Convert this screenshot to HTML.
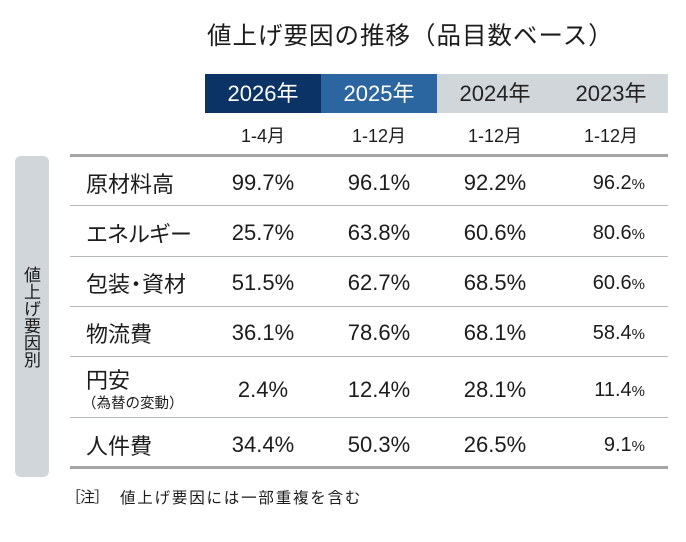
<!DOCTYPE html>
<html><head><meta charset="utf-8">
<style>
html,body{margin:0;padding:0;background:#fff;}
body{width:686px;height:542px;position:relative;overflow:hidden;font-family:"Liberation Sans","Noto Sans CJK JP",sans-serif;color:#1c1c1c;}
.a{position:absolute;white-space:nowrap;}
.hd{position:absolute;top:74px;height:39px;line-height:39px;text-align:center;font-size:22px;}
.sub{position:absolute;top:124px;height:24px;line-height:24px;width:116px;text-align:center;font-size:18px;}
.ln{position:absolute;left:70px;width:598px;height:1px;background:#b6babe;}
.lbl{position:absolute;left:86px;height:30px;line-height:30px;font-size:22px;font-family:"Noto Sans CJK JP","Liberation Sans",sans-serif;}
.v{position:absolute;height:30px;line-height:30px;width:116px;text-align:center;font-size:22px;}
.v4{position:absolute;height:30px;line-height:30px;right:41px;text-align:right;font-size:20px;}
.v4 span{font-size:15px;}
</style></head><body>
<div class="a" style="left:207px;top:18px;height:34px;line-height:34px;font-size:24.5px;letter-spacing:1px;font-family:'Noto Sans CJK JP','Liberation Sans',sans-serif;">値上げ要因の推移（品目数ベース）</div>

<div class="hd" style="left:205px;width:116px;background:#0b3366;color:#fff;">2026年</div>
<div class="hd" style="left:321px;width:116px;background:#2c66a0;color:#fff;">2025年</div>
<div class="hd" style="left:437px;width:231px;background:#d1d6db;"></div>
<div class="hd" style="left:437px;width:116px;color:#222;">2024年</div>
<div class="hd" style="left:553px;width:116px;color:#222;">2023年</div>

<div class="sub" style="left:205px;">1-4月</div>
<div class="sub" style="left:321px;">1-12月</div>
<div class="sub" style="left:437px;">1-12月</div>
<div class="sub" style="left:553px;">1-12月</div>

<div class="a" style="left:15px;top:156px;width:34px;height:321px;background:#d1d6db;border-radius:6px;"></div>
<div class="a" style="left:23px;top:266px;width:18px;height:102px;writing-mode:vertical-rl;text-orientation:upright;font-size:17px;line-height:18px;font-family:'Noto Sans CJK JP',sans-serif;">値上げ要因別</div>

<div class="a" style="left:70px;top:154px;width:598px;height:3px;background:#a6a6a6;"></div>
<div class="ln" style="top:205px;"></div>
<div class="ln" style="top:256px;"></div>
<div class="ln" style="top:306px;"></div>
<div class="ln" style="top:356px;"></div>
<div class="ln" style="top:417px;"></div>
<div class="a" style="left:70px;top:466px;width:598px;height:3px;background:#a6a6a6;"></div>

<!-- row 1 -->
<div class="lbl" style="top:168px;">原材料高</div>
<div class="v" style="left:205px;top:168px;">99.7%</div>
<div class="v" style="left:321px;top:168px;">96.1%</div>
<div class="v" style="left:437px;top:168px;">92.2%</div>
<div class="v4" style="top:168px;">96.2<span>%</span></div>
<!-- row 2 -->
<div class="lbl" style="top:218px;letter-spacing:-1px;">エネルギー</div>
<div class="v" style="left:205px;top:218px;">25.7%</div>
<div class="v" style="left:321px;top:218px;">63.8%</div>
<div class="v" style="left:437px;top:218px;">60.6%</div>
<div class="v4" style="top:218px;">80.6<span>%</span></div>
<!-- row 3 -->
<div class="lbl" style="top:268px;">包装<span style="margin:0 -5px;">・</span>資材</div>
<div class="v" style="left:205px;top:268px;">51.5%</div>
<div class="v" style="left:321px;top:268px;">62.7%</div>
<div class="v" style="left:437px;top:268px;">68.5%</div>
<div class="v4" style="top:268px;">60.6<span>%</span></div>
<!-- row 4 -->
<div class="lbl" style="top:318px;">物流費</div>
<div class="v" style="left:205px;top:318px;">36.1%</div>
<div class="v" style="left:321px;top:318px;">78.6%</div>
<div class="v" style="left:437px;top:318px;">68.1%</div>
<div class="v4" style="top:318px;">58.4<span>%</span></div>
<!-- row 5 -->
<div class="lbl" style="top:364px;">円安</div>
<div class="a" style="left:82px;top:393px;height:20px;line-height:20px;font-size:14.5px;font-family:'Noto Sans CJK JP',sans-serif;">（為替の変動）</div>
<div class="v" style="left:205px;top:375px;">2.4%</div>
<div class="v" style="left:321px;top:375px;">12.4%</div>
<div class="v" style="left:437px;top:375px;">28.1%</div>
<div class="v4" style="top:375px;">11.4<span>%</span></div>
<!-- row 6 -->
<div class="lbl" style="top:430px;">人件費</div>
<div class="v" style="left:205px;top:430px;">34.4%</div>
<div class="v" style="left:321px;top:430px;">50.3%</div>
<div class="v" style="left:437px;top:430px;">26.5%</div>
<div class="v4" style="top:430px;">9.1<span>%</span></div>

<div class="a" style="left:66px;top:486px;height:22px;line-height:22px;font-size:15px;font-family:'Noto Sans CJK JP',sans-serif;letter-spacing:-1px;">［注］</div>
<div class="a" style="left:120px;top:486px;height:22px;line-height:22px;font-size:15.5px;letter-spacing:1.8px;font-family:'Noto Sans CJK JP',sans-serif;">値上げ要因には一部重複を含む</div>
</body></html>
